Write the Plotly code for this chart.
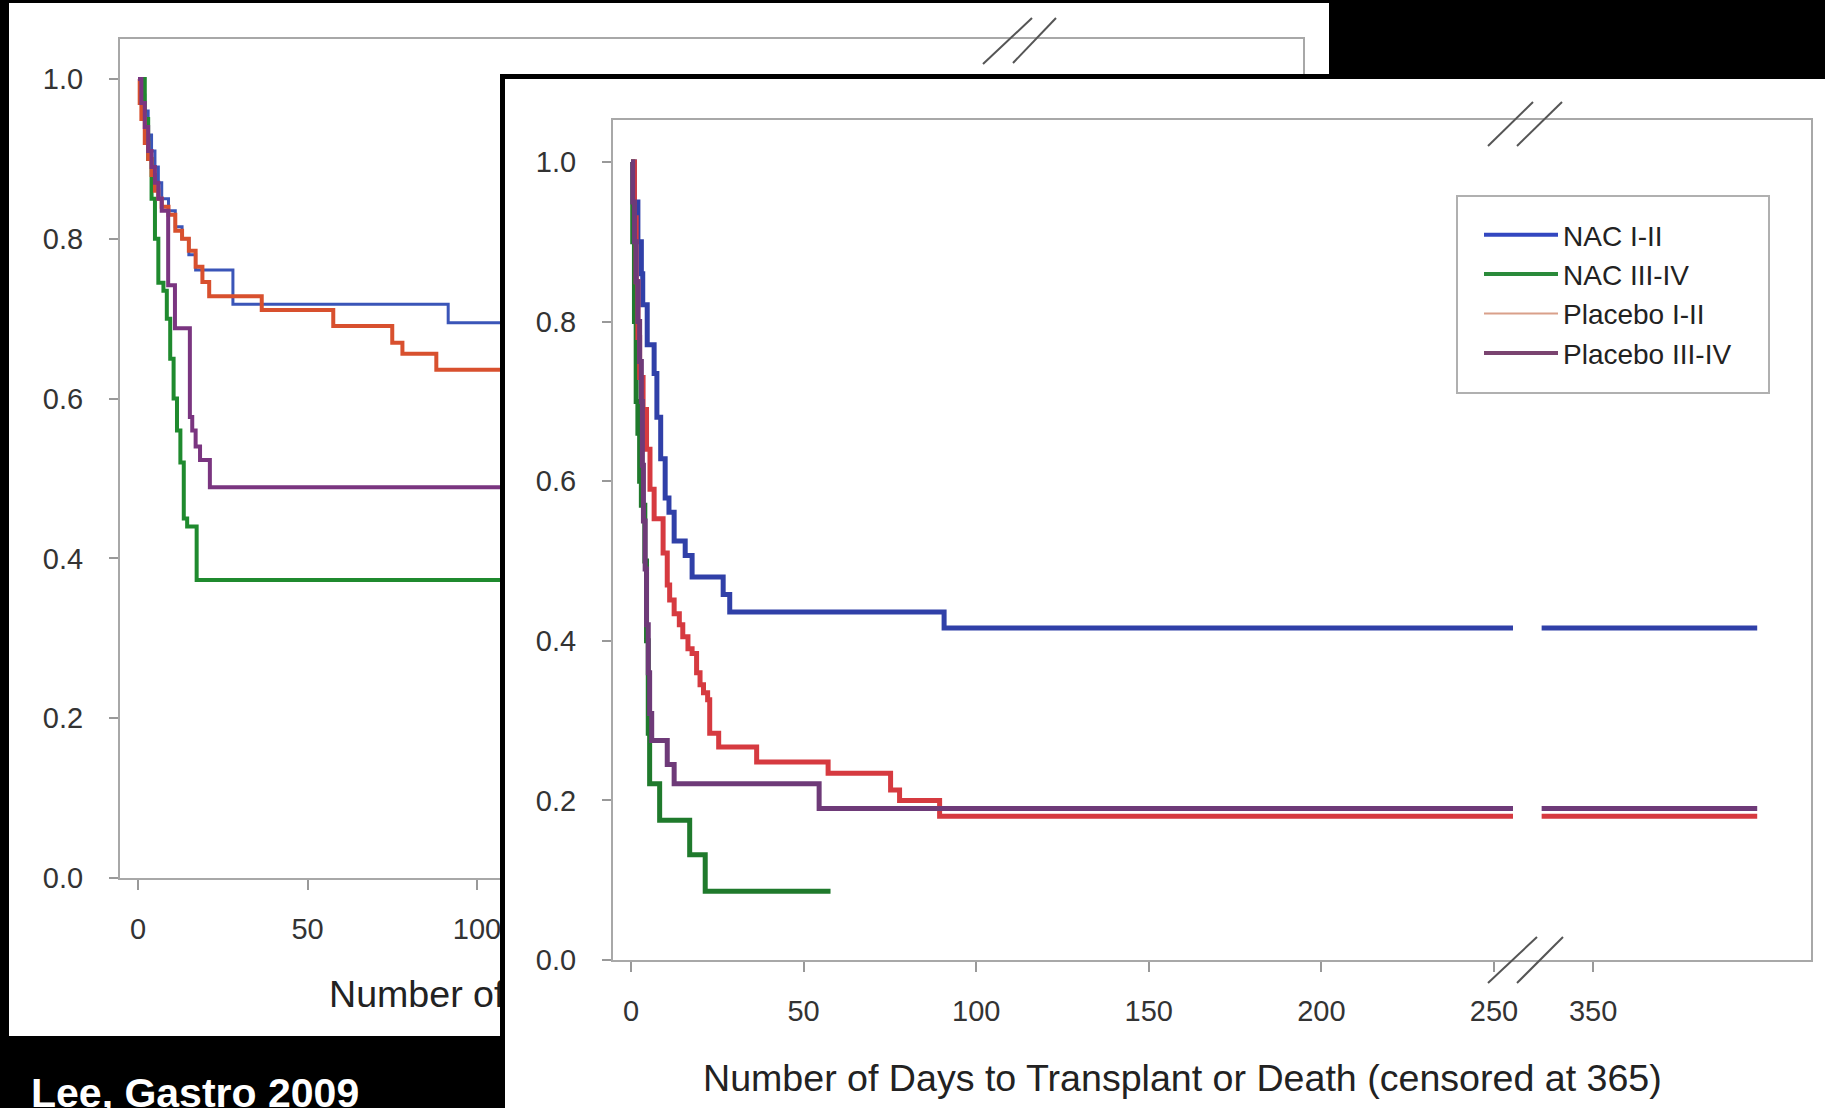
import plotly.graph_objects as go

# ---------------- data ----------------
SERIES = ["NAC I-II", "NAC III-IV", "Placebo I-II", "Placebo III-IV"]

# back (left) panel, days / survival
L_NAC12_DAYS = [0, 1, 2, 3, 4, 5, 6, 7, 9, 11, 13, 15, 17, 28, 91.5]
L_NAC12_SURV = [1.0, 0.98, 0.96, 0.93, 0.91, 0.89, 0.87, 0.85, 0.835, 0.815, 0.80, 0.78, 0.761, 0.718, 0.695]
L_NAC34_DAYS = [0, 2, 3, 4, 5, 6, 7.5, 8.5, 9.5, 10.5, 11.5, 12.5, 13.5, 14.5, 17.3]
L_NAC34_SURV = [1.0, 0.95, 0.90, 0.85, 0.80, 0.745, 0.735, 0.70, 0.65, 0.60, 0.56, 0.52, 0.45, 0.44, 0.373]
L_PBO12_DAYS = [0, 0.5, 1, 2, 3, 4, 5, 6, 7, 9, 11, 13, 15, 17, 19, 21, 36.5, 57.6, 75, 78, 88]
L_PBO12_SURV = [1.0, 0.97, 0.95, 0.92, 0.90, 0.88, 0.86, 0.85, 0.84, 0.83, 0.81, 0.80, 0.785, 0.765, 0.746, 0.728, 0.711, 0.691, 0.670, 0.656, 0.636]
L_PBO34_DAYS = [0, 1, 2, 3, 4, 5, 6, 7, 8.9, 10.9, 15.3, 16, 17, 18.3, 21.2]
L_PBO34_SURV = [1.0, 0.97, 0.94, 0.91, 0.89, 0.87, 0.85, 0.835, 0.742, 0.688, 0.577, 0.56, 0.54, 0.523, 0.489]

# front (right) panel, days / survival
R_NAC12_DAYS = [0, 1, 2, 3, 3.4, 4.7, 6.7, 7.5, 8.6, 9.9, 11, 12.5, 15.7, 17.7, 26.7, 28.6, 90.7]
R_NAC12_SURV = [1.0, 0.95, 0.90, 0.86, 0.821, 0.771, 0.735, 0.68, 0.628, 0.579, 0.561, 0.525, 0.507, 0.48, 0.458, 0.436, 0.416]
R_NAC34_DAYS = [0, 0.5, 1, 1.5, 2, 2.5, 3, 4, 4.5, 5.0, 5.4, 8.3, 17.0, 21.5, 57.8]
R_NAC34_SURV = [1.0, 0.9, 0.8, 0.7, 0.66, 0.6, 0.57, 0.5, 0.40, 0.284, 0.221, 0.175, 0.132, 0.086, 0.086]
R_PBO12_DAYS = [0, 1, 1.5, 2, 2.5, 3.5, 4.5, 5.5, 6.7, 9.3, 10.5, 11.2, 12.5, 14, 15, 16.5, 17.7, 19, 20, 21,
                22.2, 22.8, 25.4, 36.4, 57.1, 75.2, 77.8, 89.4]
R_PBO12_SURV = [1.0, 0.93, 0.85, 0.78, 0.73, 0.69, 0.64, 0.59, 0.553, 0.51, 0.47, 0.451, 0.434, 0.42, 0.405, 0.39,
                0.384, 0.36, 0.345, 0.335, 0.326, 0.284, 0.267, 0.248, 0.234, 0.213, 0.2, 0.18]
R_PBO34_DAYS = [0, 0.5, 1, 1.5, 2, 2.5, 3, 3.3, 3.6, 4.1, 4.5, 5, 5.4, 6.0, 10.5, 12.5, 54.5]
R_PBO34_SURV = [1.0, 0.95, 0.90, 0.85, 0.80, 0.75, 0.70, 0.62, 0.55, 0.49, 0.42, 0.36, 0.309, 0.275, 0.245, 0.221, 0.19]

# tick labels (the back panel only shows its first three x labels)
L_X_TICK_DAYS = [0, 50, 100]
L_X_TICK_TEXT = ["0", "50", "100"]
R_X_TICK_DAYS = [0, 50, 100, 150, 200, 250, 350]
R_X_TICK_TEXT = ["0", "50", "100", "150", "200", "250", "350"]
Y_TICK_VALS = [0.0, 0.2, 0.4, 0.6, 0.8, 1.0]
Y_TICK_TEXT = ["0.0", "0.2", "0.4", "0.6", "0.8", "1.0"]

X_TITLE = "Number of Days to Transplant or Death (censored at 365)"
L_X_TITLE_SHOWN = "Number of Days"   # the back panel's title disappears behind the front panel
SOURCE = "Lee, Gastro 2009"

# broken day axis: lines stop before the break and resume after it
SEG1_END_DAY = 255.5
SEG2_START_DAY = 345.3
CENSOR_DAY = 365


def to_axis(d):
    return d if d <= 300 else 278.7 + (d - 350) * 3.17


def km_xy(days, surv, extend=True):
    xs = [to_axis(d) for d in days]
    ys = list(surv)
    if extend:
        last = surv[-1]
        xs += [to_axis(SEG1_END_DAY), None, to_axis(SEG2_START_DAY), to_axis(CENSOR_DAY)]
        ys += [last, None, last, last]
    return xs, ys


# ---------------- layout geometry (pixels) ----------------
W, H = 1825, 1108
FONT = "Liberation Sans, Arial, Helvetica, sans-serif"


def fx(p):
    return p / W


def fy(p):
    return 1 - p / H


fig = go.Figure()

# ---- back panel curves (subplot xy)
left_styles = [("#3a55b8", 3), ("#1f8a2e", 4), ("#d8502e", 4), ("#7a3580", 4)]
left_data = [(L_NAC12_DAYS, L_NAC12_SURV), (L_NAC34_DAYS, L_NAC34_SURV),
             (L_PBO12_DAYS, L_PBO12_SURV), (L_PBO34_DAYS, L_PBO34_SURV)]
for name, (d, s), (c, w) in zip(SERIES, left_data, left_styles):
    xs, ys = km_xy(d, s)
    fig.add_trace(go.Scatter(x=xs, y=ys, mode="lines", line=dict(color=c, width=w, shape="hv"),
                             name=name, showlegend=False, hoverinfo="skip", xaxis="x", yaxis="y"))

# ---- back panel axis title (partly hidden by the front panel)
fig.add_trace(go.Scatter(x=[(329 - 9) / 1319], y=[0.5], mode="text", text=[L_X_TITLE_SHOWN],
                         textposition="middle right", cliponaxis=False,
                         textfont=dict(family=FONT, size=37.6, color="#222"),
                         showlegend=False, hoverinfo="skip", xaxis="x2", yaxis="y2"))

# ---- cover subplot (front panel white card with black frame)
fig.add_trace(go.Scatter(x=[None], y=[None], mode="lines", showlegend=False, hoverinfo="skip",
                         xaxis="x3", yaxis="y3"))

# ---- front panel curves (subplot x4y4)
right_styles = [("#3040a8", 5), ("#1f7a2c", 5), ("#d63a40", 5), ("#6e3a78", 5)]
right_data = [(R_NAC12_DAYS, R_NAC12_SURV, True), (R_NAC34_DAYS, R_NAC34_SURV, False),
              (R_PBO12_DAYS, R_PBO12_SURV, True), (R_PBO34_DAYS, R_PBO34_SURV, True)]
for name, (d, s, ext), (c, w) in zip(SERIES, right_data, right_styles):
    xs, ys = km_xy(d, s, ext)
    fig.add_trace(go.Scatter(x=xs, y=ys, mode="lines", line=dict(color=c, width=w, shape="hv"),
                             name=name, showlegend=False, hoverinfo="skip", xaxis="x4", yaxis="y4"))

# legend keys
legend_styles = [("#3347c0", 4), ("#2a8a3a", 4), ("#d9a08a", 2), ("#7a4470", 4)]
for name, (c, w) in zip(SERIES, legend_styles):
    fig.add_trace(go.Scatter(x=[None], y=[None], mode="lines", line=dict(color=c, width=w),
                             name=name, showlegend=True, hoverinfo="skip", xaxis="x4", yaxis="y4"))

tick_font = dict(family=FONT, size=29, color="#333")
common_x = dict(tickmode="array", ticks="outside", ticklen=10, tickwidth=1.5, tickcolor="#999", showline=True,
                linecolor="#a8a8a8", linewidth=2, mirror=True, showgrid=False, zeroline=False,
                tickfont=tick_font, ticklabelstandoff=14)
common_y = dict(tickmode="array", tickvals=Y_TICK_VALS, ticktext=Y_TICK_TEXT,
                ticks="outside", ticklen=9, tickwidth=1.5, tickcolor="#999", showline=True,
                linecolor="#a8a8a8", linewidth=2, mirror=True, showgrid=False, zeroline=False,
                tickfont=tick_font, ticklabelstandoff=20)
hidden = dict(visible=False, range=[0, 1], fixedrange=True)

fig.update_layout(
    width=W, height=H, margin=dict(l=0, r=0, t=0, b=0, pad=0),
    template="none", paper_bgcolor="black", plot_bgcolor="white",
    font=dict(family=FONT, color="#222"),
    xaxis=dict(domain=[fx(120), fx(1303)], range=[(120 - 138) / 3.39, (1303 - 138) / 3.39], anchor="y",
               tickvals=[to_axis(v) for v in L_X_TICK_DAYS], ticktext=L_X_TICK_TEXT, **common_x),
    yaxis=dict(domain=[fy(878), fy(39)], range=[0, (878 - 39) / 799], anchor="x", **common_y),
    xaxis2=dict(domain=[fx(9), fx(1328)], anchor="y2", **hidden),
    yaxis2=dict(domain=[fy(1036), fy(960)], anchor="x2", **hidden),
    xaxis3=dict(domain=[fx(505), 1.0], anchor="y3", range=[0, 1], showline=True, mirror=True,
                linecolor="black", linewidth=5, showticklabels=False, ticks="", showgrid=False,
                zeroline=False, fixedrange=True),
    yaxis3=dict(domain=[0.0, fy(79)], anchor="x3", range=[0, 1], showline=True, mirror=True,
                linecolor="black", linewidth=5, showticklabels=False, ticks="", showgrid=False,
                zeroline=False, fixedrange=True),
    xaxis4=dict(domain=[fx(613), fx(1811)], range=[(613 - 631) / 3.452, (1811 - 631) / 3.452], anchor="y4",
                tickvals=[to_axis(v) for v in R_X_TICK_DAYS], ticktext=R_X_TICK_TEXT, **common_x),
    yaxis4=dict(domain=[fy(960), fy(120)], range=[0, (960 - 120) / 798], anchor="x4", **common_y),
    showlegend=True,
    legend=dict(x=fx(1479), y=fy(210), xanchor="left", yanchor="top", xref="paper", yref="paper",
                bgcolor="rgba(0,0,0,0)", borderwidth=0, itemwidth=74,
                font=dict(family=FONT, size=28, color="#222")),
)

shapes = [
    # back panel white card
    dict(type="rect", xref="paper", yref="paper", x0=fx(9), x1=fx(1329), y0=fy(1036), y1=fy(3),
         fillcolor="white", line=dict(width=0), layer="below"),
    # legend box
    dict(type="rect", xref="paper", yref="paper", x0=fx(1457), x1=fx(1769), y0=fy(393), y1=fy(196),
         fillcolor="white", line=dict(color="#b0b0b0", width=2), layer="above"),
]
breaks = [
    ((983, 64), (1032, 18)), ((1013, 63), (1056, 18)),
    ((1488, 146), (1533, 102)), ((1517, 146), (1562, 102)),
    ((1488, 983), (1537, 937)), ((1517, 983), (1563, 937)),
]
for (a, b) in breaks:
    shapes.append(dict(type="line", xref="paper", yref="paper", x0=fx(a[0]), y0=fy(a[1]),
                       x1=fx(b[0]), y1=fy(b[1]), line=dict(color="#555", width=2), layer="above"))
fig.update_layout(shapes=shapes)

fig.update_layout(annotations=[
    dict(text=X_TITLE, xref="paper", yref="paper", x=fx(1182), y=fy(1078), xanchor="center",
         yanchor="middle", showarrow=False, font=dict(family=FONT, size=37.6, color="#222")),
    dict(text="<b>" + SOURCE + "</b>", xref="paper", yref="paper", x=fx(29), y=fy(1093), xanchor="left",
         yanchor="middle", showarrow=False,
         font=dict(family=FONT, size=41, color="white")),
])

fig.write_html("out.html", config={"displayModeBar": False},
               post_script="document.body.style.margin='0';document.body.style.overflow='hidden';"
                           "document.body.style.background='black';")
